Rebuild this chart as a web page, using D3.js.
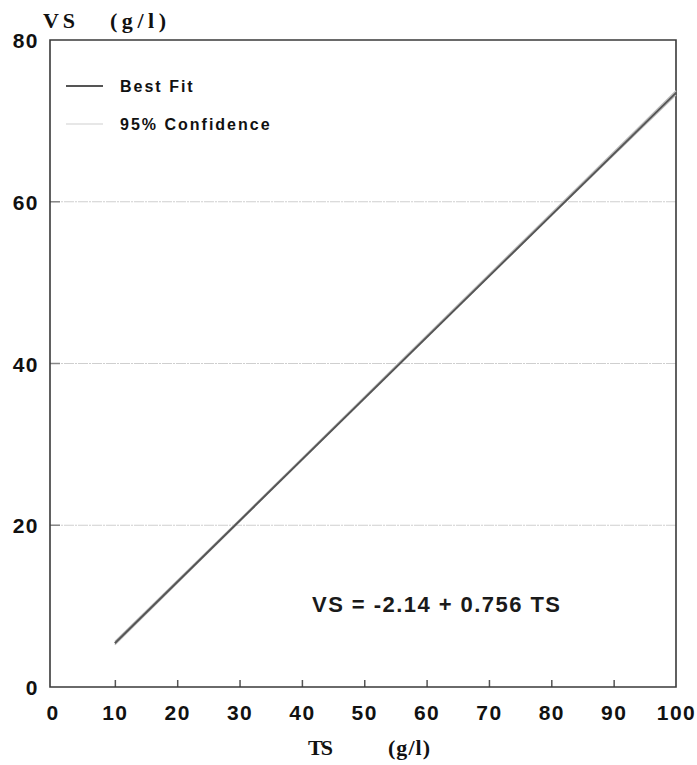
<!DOCTYPE html>
<html>
<head>
<meta charset="utf-8">
<script src="https://cdn.jsdelivr.net/npm/d3@7"></script>
<style>
  html, body { margin: 0; padding: 0; background: #fff; }
  svg { display: block; }
</style>
</head>
<body>
<svg id="chart" width="697" height="765"></svg>
<script>
// Regression of volatile solids (VS) on total solids (TS)
const intercept = -2.14;
const slope = 0.756;
const fitTS = [10, 100];
const fitVS = fitTS.map(x => intercept + slope * x);

// 95% confidence limits for the mean response
const confTS = [10, 30, 55, 80, 100];
const confLower = [5.22, 20.45, 39.50, 58.29, 73.20];
const confUpper = [5.62, 20.69, 39.66, 58.59, 73.72];

const xTicks = [0, 10, 20, 30, 40, 50, 60, 70, 80, 90, 100];
const yTicks = [0, 20, 40, 60, 80];
const gridValues = [20, 40, 60];

const legendLabels = ["Best Fit", "95% Confidence"];
const equationText = "VS = -2.14 + 0.756 TS";

const svg = d3.select("#chart");
const margin = { left: 50, right: 676, top: 40, bottom: 687 };

const x = d3.scaleLinear().domain([0, 100]).range([52.5, 676]);
const y = d3.scaleLinear().domain([0, 80]).range([margin.bottom, margin.top]);

const axisColor = "#3a3a3a";
const tickFont = "'Liberation Sans', Arial, sans-serif";
const titleFont = "'Liberation Serif', 'DejaVu Serif', serif";

// gridlines
const grid = svg.append("g");
gridValues.forEach(v => {
  grid.append("line")
    .attr("x1", margin.left).attr("x2", margin.right)
    .attr("y1", y(v)).attr("y2", y(v))
    .attr("stroke", "#cfcfcf").attr("stroke-width", 1.2)
    .attr("stroke-dasharray", "10,1,2,1");
  grid.append("line")
    .attr("x1", margin.left).attr("x2", margin.left + 10)
    .attr("y1", y(v)).attr("y2", y(v))
    .attr("stroke", "#888").attr("stroke-width", 1.5);
});

// x axis with inward ticks
const xAxis = d3.axisBottom(x).tickValues(xTicks).tickSize(0).tickPadding(0);
const gx = svg.append("g").attr("transform", `translate(0,${margin.bottom})`).call(xAxis);
gx.select(".domain").remove();
gx.selectAll(".tick text")
  .attr("y", 33).attr("dy", null)
  .attr("font-family", tickFont).attr("font-weight", "bold")
  .attr("font-size", 21).attr("letter-spacing", 1.5)
  .attr("fill", "#111");
gx.selectAll(".tick")
  .filter(d => d > 0 && d < 100)
  .append("line")
  .attr("y1", 0).attr("y2", -7)
  .attr("stroke", "#555").attr("stroke-width", 1.5);

// y axis labels
const yAxis = d3.axisLeft(y).tickValues(yTicks).tickSize(0).tickPadding(0);
const gy = svg.append("g").attr("transform", `translate(${margin.left},0)`).call(yAxis);
gy.select(".domain").remove();
gy.selectAll(".tick text")
  .attr("x", -11).attr("dy", "0.36em")
  .attr("font-family", tickFont).attr("font-weight", "bold")
  .attr("font-size", 21).attr("letter-spacing", 1.5)
  .attr("fill", "#111");

// frame
svg.append("path")
  .attr("d", `M${margin.left},${margin.top}H${margin.right}V${margin.bottom}H${margin.left}Z`)
  .attr("fill", "none").attr("stroke", axisColor).attr("stroke-width", 1.6);

// confidence limits
const line = d3.line().x(d => x(d[0])).y(d => y(d[1])).curve(d3.curveMonotoneX);
[confLower, confUpper].forEach(arr => {
  svg.append("path")
    .datum(confTS.map((t, i) => [t, arr[i]]))
    .attr("d", line)
    .attr("fill", "none").attr("stroke", "#bdbdbd").attr("stroke-width", 1.3);
});

// best fit line
svg.append("path")
  .datum(fitTS.map((t, i) => [t, fitVS[i]]))
  .attr("d", d3.line().x(d => x(d[0])).y(d => y(d[1])))
  .attr("fill", "none").attr("stroke", "#555").attr("stroke-width", 2);

// legend
const legend = svg.append("g");
const legendY = [86, 124];
legend.append("line").attr("x1", 66).attr("x2", 103).attr("y1", legendY[0]).attr("y2", legendY[0])
  .attr("stroke", "#555").attr("stroke-width", 1.8);
legend.append("line").attr("x1", 66).attr("x2", 103).attr("y1", legendY[1]).attr("y2", legendY[1])
  .attr("stroke", "#cfcfcf").attr("stroke-width", 1.2);
legendLabels.forEach((t, i) => {
  legend.append("text")
    .attr("x", 120).attr("y", legendY[i] + 6)
    .attr("font-family", tickFont).attr("font-weight", "bold")
    .attr("font-size", 16).attr("letter-spacing", 2)
    .attr("fill", "#111")
    .text(t);
});

// regression equation
svg.append("text")
  .attr("x", 312).attr("y", 612)
  .attr("font-family", tickFont).attr("font-size", 22)
  .attr("font-weight", "bold")
  .attr("textLength", 248).attr("lengthAdjust", "spacing")
  .attr("fill", "#1a1a1a")
  .text(equationText);

// axis titles
function title(xPos, yPos, txt, len) {
  svg.append("text").attr("x", xPos).attr("y", yPos)
    .attr("font-family", titleFont).attr("font-weight", "bold")
    .attr("font-size", 22).attr("fill", "#111")
    .attr("textLength", len).attr("lengthAdjust", "spacing")
    .text(txt);
}
title(43, 28, "VS", 32);
title(110, 28, "(g/l)", 56);
title(308, 755, "TS", 25);
title(388, 755, "(g/l)", 42);
</script>
</body>
</html>
